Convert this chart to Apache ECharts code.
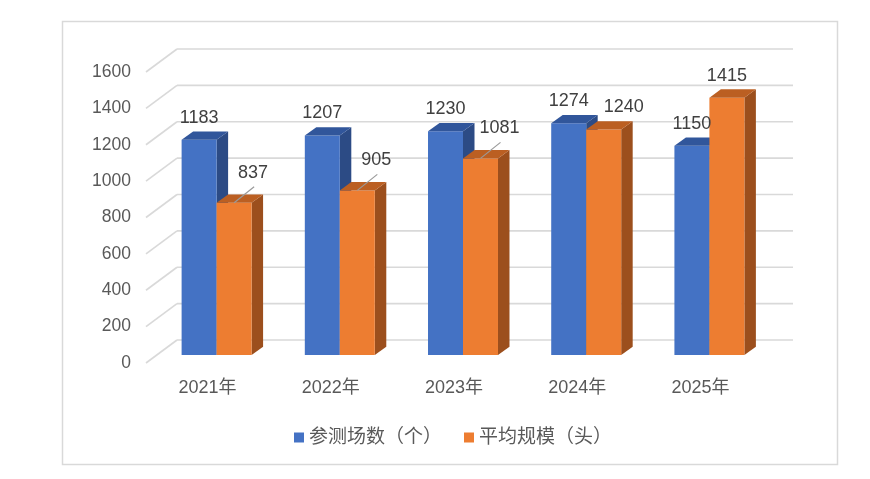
<!DOCTYPE html>
<html><head><meta charset="utf-8">
<script src="https://cdn.jsdelivr.net/npm/echarts@6/dist/echarts.min.js"></script>
<style>html,body{margin:0;padding:0;background:#fff;}#c{width:870px;height:479px;}</style>
</head><body><div id="c"></div>
<script>
// ---- data ----
const categories = ['2021年', '2022年', '2023年', '2024年', '2025年'];
const sessions = [1183, 1207, 1230, 1274, 1150];     // 参测场数（个）
const avgScale = [837, 905, 1081, 1240, 1415];       // 平均规模（头）
const yTicks = [0, 200, 400, 600, 800, 1000, 1200, 1400, 1600];
const seriesNames = ['参测场数（个）', '平均规模（头）'];

// ---- style ----
const FONT = "'Liberation Sans','Noto Sans CJK SC',sans-serif";
const palette = [
  { front: '#4472C4', top: '#31569b', side: '#2c4b85' },
  { front: '#ED7D31', top: '#bb5f22', side: '#9c4f1d' }
];
const DEPTH = [11.5, -8.3];
const BACK = [22, -15];
const FRONT = [-9, 8];
const GRID_COLOR = '#d9d9d9';

function geom(sIdx, api) {
  const i = api.value(0), v = api.value(1);
  const top = api.coord([i, v]);
  const base = api.coord([i, 0]);
  const band = api.size([1, 0])[0];
  const w = band * 0.284;
  const x0 = sIdx === 0 ? top[0] - w : top[0];
  return { i, v, x0, x1: x0 + w, w, yt: top[1], yb: base[1] };
}

function barItem(sIdx) {
  return function (params, api) {
    const g = geom(sIdx, api);
    const [dx, dy] = DEPTH;
    const c = palette[sIdx];
    return {
      type: 'group',
      children: [
        { type: 'polygon', shape: { points: [[g.x1, g.yt], [g.x1 + dx, g.yt + dy], [g.x1 + dx, g.yb + dy], [g.x1, g.yb]] }, style: { fill: c.side } },
        { type: 'rect', shape: { x: g.x0, y: g.yt, width: g.w, height: g.yb - g.yt }, style: { fill: c.front } },
        { type: 'polygon', shape: { points: [[g.x0, g.yt], [g.x1, g.yt], [g.x1 + dx, g.yt + dy], [g.x0 + dx, g.yt + dy]] }, style: { fill: c.top } }
      ]
    };
  };
}

function labelItem(sIdx) {
  return function (params, api) {
    const g = geom(sIdx, api);
    const cx = (g.x0 + g.x1) / 2;
    const children = [];
    let lx = cx, ly = g.yt - 22;
    if (sIdx === 1 && sessions[g.i] > g.v) {
      lx = cx + 20;
      if (sessions[g.i] - g.v > 100) {
        children.push({ type: 'line', shape: { x1: cx, y1: g.yt, x2: cx + 20, y2: g.yt - 16 }, style: { stroke: '#9a9a9a', lineWidth: 1.2 } });
        lx = cx + 19; ly = g.yt - 30;
      }
    }
    children.push({ type: 'text', x: lx, y: ly, style: { text: String(g.v), fill: '#404040', fontSize: 18, fontFamily: FONT, align: 'center', verticalAlign: 'middle' } });
    return { type: 'group', children };
  };
}

function gridItem(params, api) {
  const v = api.value(1);
  const y = api.coord([0, v])[1];
  const cs = params.coordSys;
  const left = cs.x, right = cs.x + cs.width;
  const st = { stroke: GRID_COLOR, lineWidth: 1.6 };
  return {
    type: 'group',
    children: [
      { type: 'line', shape: { x1: left + FRONT[0], y1: y + FRONT[1], x2: left + BACK[0], y2: y + BACK[1] }, style: st },
      { type: 'line', shape: { x1: left + BACK[0], y1: y + BACK[1], x2: right + BACK[0], y2: y + BACK[1] }, style: st }
    ]
  };
}

const chart = echarts.init(document.getElementById('c'));
chart.setOption({
  animation: false,
  backgroundColor: '#fff',
  graphic: [{
    type: 'rect', left: 60, top: 19, silent: true,
    shape: { x: 0, y: 0, width: 775, height: 443 },
    style: { fill: 'none', stroke: GRID_COLOR, lineWidth: 1.5 }
  }],
  grid: [
    { left: 155, right: 99, top: 64, bottom: 124 },
    { left: 146, right: 108, top: 72, bottom: 116 }
  ],
  xAxis: [
    { gridIndex: 0, type: 'category', data: categories, show: false },
    {
      gridIndex: 1, type: 'category', data: categories,
      axisLine: { show: false }, axisTick: { show: false },
      axisLabel: { margin: 16, color: '#595959', fontSize: 18, fontFamily: FONT }
    }
  ],
  yAxis: [
    { gridIndex: 0, type: 'value', min: 0, max: 1600, interval: 200, show: false },
    {
      gridIndex: 1, type: 'value', min: 0, max: 1600, interval: 200,
      axisLine: { show: false }, axisTick: { show: false }, splitLine: { show: false },
      axisLabel: { margin: 15, color: '#595959', fontSize: 17.5, fontFamily: FONT, formatter: v => String(v) }
    }
  ],
  legend: {
    left: 289, top: 423, itemWidth: 10, itemHeight: 10, itemGap: 22,
    data: [{ name: seriesNames[0], icon: 'rect' }, { name: seriesNames[1], icon: 'rect' }],
    textStyle: { fontSize: 19, color: '#595959', fontFamily: FONT }
  },
  series: [
    { type: 'custom', name: 'grid', xAxisIndex: 0, yAxisIndex: 0, z: 1, silent: true,
      renderItem: gridItem, data: yTicks.map(v => [0, v]) },
    { type: 'custom', name: seriesNames[0], xAxisIndex: 0, yAxisIndex: 0, z: 2,
      itemStyle: { color: palette[0].front }, renderItem: barItem(0),
      data: sessions.map((v, i) => [i, v]) },
    { type: 'custom', name: seriesNames[1], xAxisIndex: 0, yAxisIndex: 0, z: 3,
      itemStyle: { color: palette[1].front }, renderItem: barItem(1),
      data: avgScale.map((v, i) => [i, v]) },
    { type: 'custom', name: 'lbl0', xAxisIndex: 0, yAxisIndex: 0, z: 5, silent: true,
      renderItem: labelItem(0), data: sessions.map((v, i) => [i, v]) },
    { type: 'custom', name: 'lbl1', xAxisIndex: 0, yAxisIndex: 0, z: 5, silent: true,
      renderItem: labelItem(1), data: avgScale.map((v, i) => [i, v]) }
  ]
});
</script>
</body></html>
